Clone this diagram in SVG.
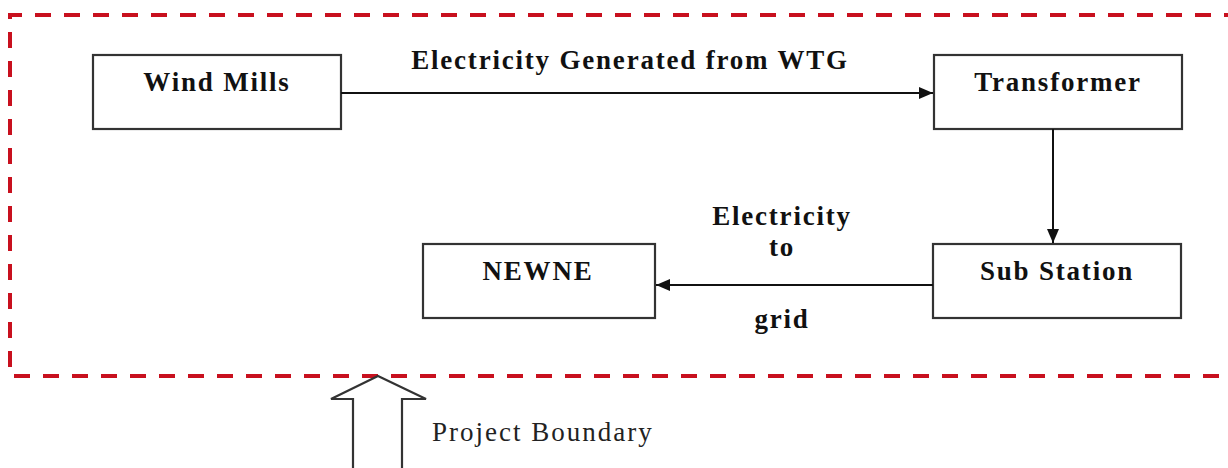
<svg xmlns="http://www.w3.org/2000/svg" width="1228" height="468" viewBox="0 0 1228 468">
<style>
.box{fill:#fff;stroke:#333;stroke-width:2.2}
.lbl{font-family:"Liberation Serif","Times New Roman",serif;font-weight:bold;font-size:27px;letter-spacing:1.8px;fill:#111;text-anchor:middle}
.conn{stroke:#111;stroke-width:2;fill:none}
.bnd{stroke:#c8101e;stroke-width:4;fill:none;stroke-dasharray:16 13}
</style>
<defs>
<marker id="ah" viewBox="0 0 14 12" refX="14" refY="6" markerWidth="14" markerHeight="12" markerUnits="userSpaceOnUse" orient="auto">
<path d="M0,0 L14,6 L0,12 Z" fill="#111"/>
</marker>
</defs>
<g id="boundary">
<path class="bnd" d="M1240,15 L10,15 L10,376 L1240,376"/>
</g>
<g id="wind-mills">
<rect class="box" x="93" y="55" width="248" height="74"/>
<text class="lbl" x="217" y="91">Wind Mills</text>
</g>
<g id="transformer">
<rect class="box" x="934" y="55" width="248" height="74"/>
<text class="lbl" x="1058" y="91">Transformer</text>
</g>
<g id="sub-station">
<rect class="box" x="933" y="244" width="248" height="74"/>
<text class="lbl" x="1057" y="280">Sub Station</text>
</g>
<g id="newne">
<rect class="box" x="423" y="244" width="232" height="74"/>
<text class="lbl" x="538" y="280">NEWNE</text>
</g>
<g id="connectors">
<line class="conn" x1="341" y1="93" x2="933" y2="93" marker-end="url(#ah)"/>
<line class="conn" x1="1053" y1="129" x2="1053" y2="243" marker-end="url(#ah)"/>
<line class="conn" x1="933" y1="285" x2="656" y2="285" marker-end="url(#ah)"/>
<text class="lbl" x="630" y="69">Electricity Generated from WTG</text>
<text class="lbl" x="782" y="225">Electricity</text>
<text class="lbl" x="782" y="256">to</text>
<text class="lbl" x="782" y="328">grid</text>
</g>
<g id="project-boundary">
<path d="M378,376 L426,399 L402,399 L402,470 L353,470 L353,399 L331,399 Z" fill="#fff" stroke="#333" stroke-width="2.2" stroke-linejoin="miter"/>
<text x="432" y="441" font-family="Liberation Serif,Times New Roman,serif" font-size="27" letter-spacing="2" fill="#222">Project Boundary</text>
</g>
</svg>
